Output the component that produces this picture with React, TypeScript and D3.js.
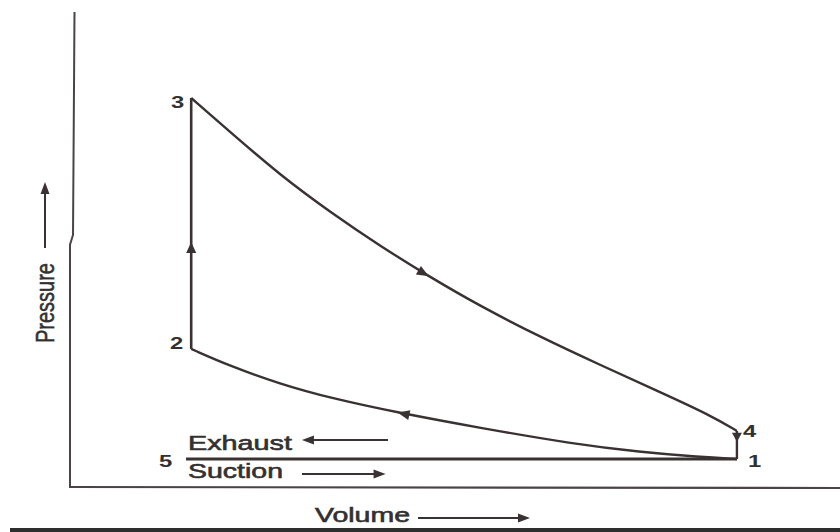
import React from 'react';
import * as d3 from 'd3';

// Otto cycle P–V diagram (arbitrary units)
const expansionVolume = [10.1, 13.33, 17.5, 21.67, 25.83, 29.83, 34.17, 39.17, 44.17, 49.17, 53.33, 55.58];
const expansionPressure = [13.89, 12.68, 11.14, 9.82, 8.61, 7.54, 6.46, 5.36, 4.36, 3.39, 2.57, 2.0];
const compressionVolume = [55.58, 52.5, 47.5, 41.92, 34.17, 27.5, 21.67, 17.5, 13.33, 10.1];
const compressionPressure = [1.0, 1.07, 1.25, 1.54, 2.11, 2.64, 3.18, 3.68, 4.32, 4.93];
const stateLabels = ['1', '2', '3', '4', '5'];
const stateVolume = [55.58, 10.1, 10.1, 55.58, 9.67];
const statePressure = [1.0, 4.93, 13.89, 2.0, 1.0];
const strokeLabels = ['Exhaust', 'Suction'];
const axisLabels = ['Volume', 'Pressure'];

const W = 840;
const H = 532;
const INK = '#3a3232';
const TEXT = '#343030';
const FONT = '"Liberation Sans", Arial, sans-serif';

type P = [number, number];

function arrowHead(tip: P, angle: number, len = 11, half = 4.8): string {
  const [tx, ty] = tip;
  const bx = tx - len * Math.cos(angle);
  const by = ty - len * Math.sin(angle);
  const nx = -Math.sin(angle) * half;
  const ny = Math.cos(angle) * half;
  return `M${tx},${ty}L${bx + nx},${by + ny}L${bx - nx},${by - ny}Z`;
}

function pointAlong(pts: P[], key: 0 | 1, target: number): { p: P; a: number } {
  for (let i = 0; i < pts.length - 1; i++) {
    const a0 = pts[i][key];
    const a1 = pts[i + 1][key];
    if ((target - a0) * (target - a1) <= 0) {
      const t = a1 === a0 ? 0 : (target - a0) / (a1 - a0);
      const p: P = [pts[i][0] + t * (pts[i + 1][0] - pts[i][0]), pts[i][1] + t * (pts[i + 1][1] - pts[i][1])];
      const a = Math.atan2(pts[i + 1][1] - pts[i][1], pts[i + 1][0] - pts[i][0]);
      return { p, a };
    }
  }
  return { p: pts[0], a: 0 };
}

export default function App() {
  const x = d3.scaleLinear().domain([0, 64.17]).range([70, 840]);
  const y = d3.scaleLinear().domain([0, 16.96]).range([487, 12]);

  const curve = d3
    .line<P>()
    .x((d) => x(d[0]))
    .y((d) => y(d[1]))
    .curve(d3.curveBasis);
  const straight = d3
    .line<P>()
    .x((d) => x(d[0]))
    .y((d) => y(d[1]));

  const expansion: P[] = expansionVolume.map((v, i) => [v, expansionPressure[i]]);
  const compression: P[] = compressionVolume.map((v, i) => [v, compressionPressure[i]]);
  const s = (k: string) => stateLabels.indexOf(k);
  const st = (k: string): P => [stateVolume[s(k)], statePressure[s(k)]];

  const combustion: P[] = [st('2'), st('3')];
  const blowdown: P[] = [st('4'), st('1')];
  const atmospheric: P[] = [st('5'), st('1')];

  const px = (pts: P[]): P[] => pts.map((d) => [x(d[0]), y(d[1])]);

  const expArrow = pointAlong(px(expansion), 0, x(29.9));
  const compArrow = pointAlong(px(compression), 0, x(27.3));
  const combArrow = pointAlong(px(combustion), 1, y(8.75));
  const blowArrow = pointAlong(px(blowdown), 1, y(1.62));

  const labelPos: Record<string, { dx: number; dy: number; anchor: 'start' | 'end' }> = {
    '1': { dx: 11, dy: 8, anchor: 'start' },
    '2': { dx: -8, dy: 0, anchor: 'end' },
    '3': { dx: -7, dy: 10, anchor: 'end' },
    '4': { dx: 6, dy: 6, anchor: 'start' },
    '5': { dx: -27, dy: 8, anchor: 'start' },
  };

  const y0 = y(0);
  const x0 = x(0);

  return (
    <svg
      width={W}
      height={H}
      viewBox={`0 0 ${W} ${H}`}
      style={{ position: 'absolute', left: 0, top: 0, background: '#ffffff' }}
    >
      <rect x={0} y={0} width={W} height={H} fill="#ffffff" />

      {/* axes */}
      <path
        d={`M${x0 + 4.5},${y(16.96)}L${x0 + 3},${y(9.0)}L${x0},${y(8.65)}L${x0},${y0}`}
        fill="none"
        stroke="#4a4444"
        strokeWidth={2}
      />
      <line x1={x0 - 1} x2={W} y1={y0} y2={y0 + 1} stroke="#4a4444" strokeWidth={2.2} />

      {/* page edge bar */}
      <rect x={10} y={528} width={W - 10} height={4} fill="#2e2e2e" />

      {/* cycle */}
      <path d={curve(expansion) || ''} fill="none" stroke={INK} strokeWidth={2.4} />
      <path d={curve(compression) || ''} fill="none" stroke={INK} strokeWidth={2.4} />
      <path d={straight(combustion) || ''} fill="none" stroke={INK} strokeWidth={2.6} />
      <path d={straight(blowdown) || ''} fill="none" stroke={INK} strokeWidth={2.4} />
      <path d={straight(atmospheric) || ''} fill="none" stroke={INK} strokeWidth={3} />

      {/* direction arrows on the cycle */}
      <path d={arrowHead(expArrow.p, expArrow.a, 12, 5)} fill={INK} />
      <path d={arrowHead(compArrow.p, compArrow.a, 12, 5)} fill={INK} />
      <path d={arrowHead(combArrow.p, combArrow.a, 11, 5)} fill={INK} />
      <path d={arrowHead(blowArrow.p, blowArrow.a, 9, 5)} fill={INK} />

      {/* state labels */}
      {stateLabels.map((k, i) => {
        const lp = labelPos[k];
        const tx = x(stateVolume[i]) + lp.dx;
        const ty = y(statePressure[i]) + lp.dy;
        return (
          <g key={k} transform={`translate(${tx},${ty}) scale(1.4,1)`}>
            <text
              x={0}
              y={0}
              textAnchor={lp.anchor}
              fontFamily={FONT}
              fontSize={17}
              fontWeight={700}
              fill={TEXT}
            >
              {k}
            </text>
          </g>
        );
      })}

      {/* stroke labels */}
      <text
        x={188}
        y={450}
        fontFamily={FONT}
        fontSize={20.5}
        textLength={104}
        lengthAdjust="spacingAndGlyphs"
        fill={TEXT}
        stroke={TEXT}
        strokeWidth={0.6}
      >
        {strokeLabels[0]}
      </text>
      <line x1={x(26.5)} x2={x(19.6)} y1={440} y2={440} stroke={INK} strokeWidth={2} />
      <path d={arrowHead([x(19.33), 440], Math.PI, 12, 4.5)} fill={INK} />

      <text
        x={188}
        y={478}
        fontFamily={FONT}
        fontSize={20.5}
        textLength={95}
        lengthAdjust="spacingAndGlyphs"
        fill={TEXT}
        stroke={TEXT}
        strokeWidth={0.6}
      >
        {strokeLabels[1]}
      </text>
      <line x1={x(19.33)} x2={x(26.0)} y1={474} y2={474} stroke={INK} strokeWidth={2} />
      <path d={arrowHead([x(26.3), 474], 0, 12, 4.5)} fill={INK} />

      {/* axis labels */}
      <text
        x={315}
        y={522}
        fontFamily={FONT}
        fontSize={20}
        textLength={95}
        lengthAdjust="spacingAndGlyphs"
        fill={TEXT}
        stroke={TEXT}
        strokeWidth={0.6}
      >
        {axisLabels[0]}
      </text>
      <line x1={418} x2={520} y1={518} y2={518} stroke={INK} strokeWidth={2} />
      <path d={arrowHead([530, 518], 0, 12, 4.5)} fill={INK} />

      <g transform="translate(54,343) scale(1.4,1) rotate(-90)">
        <text
          x={0}
          y={0}
          fontFamily={FONT}
          fontSize={19}
          textLength={80}
          lengthAdjust="spacingAndGlyphs"
          fill={TEXT}
          stroke={TEXT}
          strokeWidth={0.4}
        >
          {axisLabels[1]}
        </text>
      </g>
      <line x1={45} x2={45} y1={248} y2={192} stroke={INK} strokeWidth={2} />
      <path d={arrowHead([45, 182], -Math.PI / 2, 12, 4.5)} fill={INK} />
    </svg>
  );
}
